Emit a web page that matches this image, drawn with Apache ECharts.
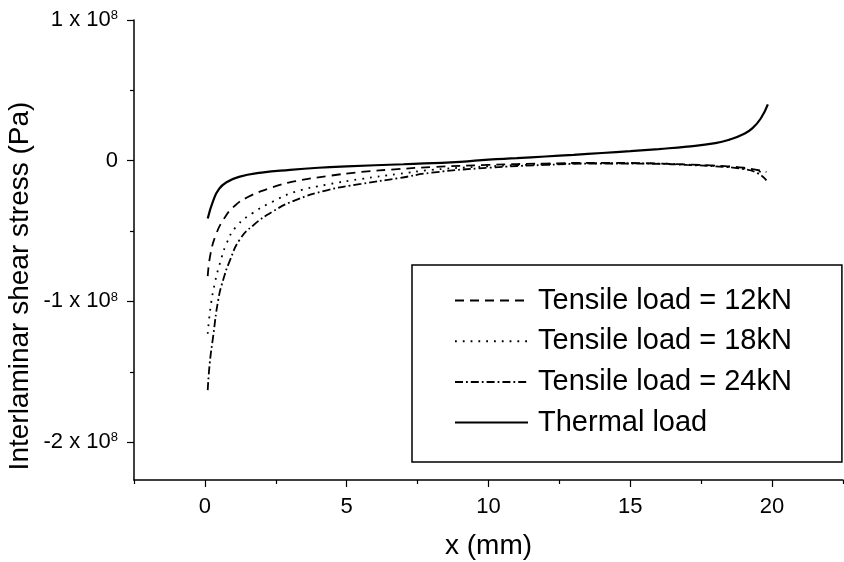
<!DOCTYPE html>
<html>
<head>
<meta charset="utf-8">
<script src="https://cdn.jsdelivr.net/npm/echarts@6/dist/echarts.min.js"></script>
<style>
  html, body { margin: 0; padding: 0; background: #fff; }
  #chart { width: 844px; height: 562px; }
</style>
</head>
<body>
<div id="chart"></div>
<script>
// stress values are in units of 1e8 Pa
const xThermal = [0.1, 0.3, 0.5, 0.75, 1.2, 2, 3, 4, 5, 7, 9, 10, 11, 12, 13, 14, 15, 16, 17, 18, 18.5, 19, 19.3, 19.6, 19.85];
const thermal = [-0.41, -0.28, -0.20, -0.155, -0.115, -0.085, -0.065, -0.05, -0.04, -0.025, -0.008, 0.008, 0.018, 0.03, 0.042, 0.055, 0.068, 0.083, 0.1, 0.125, 0.15, 0.19, 0.23, 0.30, 0.40];

const x12 = [0.1, 0.2, 0.4, 0.65, 1.0, 1.5, 2.3, 3.2, 4.3, 5.5, 6.8, 8, 10, 12, 14, 16, 17, 18, 19, 19.8];
const load12 = [-0.82, -0.66, -0.52, -0.42, -0.33, -0.26, -0.195, -0.145, -0.11, -0.08, -0.06, -0.045, -0.03, -0.02, -0.015, -0.02, -0.027, -0.035, -0.05, -0.08];

const x18 = [0.1, 0.2, 0.35, 0.53, 0.76, 1.1, 1.7, 2.4, 3.2, 4.3, 5.5, 6.8, 8, 10, 12, 14, 16, 17, 18, 19, 19.8];
const load18 = [-1.23, -1.04, -0.87, -0.73, -0.59, -0.47, -0.37, -0.29, -0.22, -0.17, -0.13, -0.095, -0.065, -0.04, -0.025, -0.018, -0.02, -0.028, -0.037, -0.055, -0.09];

const x24 = [0.1, 0.17, 0.29, 0.47, 0.64, 0.88, 1.23, 1.7, 2.4, 3.2, 4.3, 5.5, 6.8, 8, 10, 12, 14, 16, 17, 18, 19, 19.5, 19.8];
const load24 = [-1.63, -1.44, -1.25, -0.99, -0.85, -0.71, -0.56, -0.46, -0.36, -0.28, -0.21, -0.165, -0.125, -0.085, -0.05, -0.03, -0.02, -0.022, -0.03, -0.04, -0.06, -0.09, -0.14];

const seriesNames = ["Tensile load = 12kN", "Tensile load = 18kN", "Tensile load = 24kN", "Thermal load"];
const xMajor = [0, 5, 10, 15, 20];
const xMinor = [-2.5, 2.5, 7.5, 12.5, 17.5, 22.5];
const yMajor = [-2, -1, 0, 1];
const yMinor = [-1.5, -0.5, 0.5];

const font = "'Liberation Sans', Arial, sans-serif";
const pairs = (xs, ys) => xs.map((x, i) => [x, ys[i]]);
const X_MIN = -2.5, X_MAX = 22.5, Y_MIN = -2.269, Y_MAX = 1;

const chart = echarts.init(document.getElementById("chart"), null, { renderer: "canvas" });

const lineSeries = (name, data, type, width) => ({
  name,
  type: "line",
  data,
  smooth: 0.5,
  symbol: "none",
  showSymbol: false,
  clip: false,
  lineStyle: { color: "#000", width, type },
});

const tickStyle = { color: "#000", width: 1.2 };

chart.setOption({
  animation: false,
  backgroundColor: "#fff",
  textStyle: { fontFamily: font, color: "#000" },
  grid: { left: 134, right: 1, top: 20, bottom: 82, containLabel: false, outerBoundsMode: "none" },
  legend: {
    data: seriesNames,
    orient: "vertical",
    left: 412,
    top: 265,
    padding: [21, 50, 25, 42],
    itemGap: 11.7,
    itemWidth: 73,
    itemHeight: 20,
    borderColor: "#000",
    borderWidth: 1.5,
    backgroundColor: "#fff",
    itemStyle: { opacity: 0 },
    textStyle: { fontSize: 29, color: "#000", fontFamily: font, lineHeight: 29, padding: [0, 0, 0, 5] },
  },
  xAxis: [
    {
      type: "value",
      position: "bottom",
      min: X_MIN,
      max: X_MAX,
      name: "x (mm)",
      nameLocation: "middle",
      nameGap: 52,
      nameMoveOverlap: false,
      nameTextStyle: { fontSize: 28, color: "#000", fontFamily: font },
      axisLine: { onZero: false, lineStyle: { color: "#000", width: 1.5 } },
      axisTick: { length: 7, customValues: xMajor, lineStyle: tickStyle },
      axisLabel: { customValues: xMajor, fontSize: 22, color: "#000", margin: 16 },
      splitLine: { show: false },
    },
    {
      type: "value",
      position: "bottom",
      min: X_MIN,
      max: X_MAX,
      axisLine: { show: false, onZero: false },
      axisTick: { length: 4, customValues: xMinor, lineStyle: tickStyle },
      axisLabel: { show: false },
      splitLine: { show: false },
    },
  ],
  yAxis: [
    {
      type: "value",
      position: "left",
      min: Y_MIN,
      max: Y_MAX,
      name: "Interlaminar shear stress (Pa)",
      nameLocation: "middle",
      nameGap: 100,
      nameRotate: 90,
      nameMoveOverlap: false,
      nameTextStyle: { fontSize: 28, color: "#000", fontFamily: font, padding: [0, 72, 0, 0] },
      axisLine: { show: true, onZero: false, lineStyle: { color: "#000", width: 1.5 } },
      axisTick: { show: true, length: 7, customValues: yMajor, lineStyle: tickStyle },
      axisLabel: {
        customValues: yMajor,
        margin: 16,
        color: "#000",
        formatter: (v) => (v === 0 ? "{a|0}" : "{a|" + v + " x 10}{s|8}"),
        rich: {
          a: { fontSize: 22, color: "#000", fontFamily: font },
          s: { fontSize: 13, color: "#000", fontFamily: font, verticalAlign: "top" },
        },
      },
      splitLine: { show: false },
    },
    {
      type: "value",
      position: "left",
      min: Y_MIN,
      max: Y_MAX,
      axisLine: { show: false, onZero: false },
      axisTick: { show: true, length: 4, customValues: yMinor, lineStyle: tickStyle },
      axisLabel: { show: false },
      splitLine: { show: false },
    },
  ],
  series: [
    lineSeries(seriesNames[0], pairs(x12, load12), [9, 6], 1.8),
    lineSeries(seriesNames[1], pairs(x18, load18), [1.8, 6], 1.8),
    lineSeries(seriesNames[2], pairs(x24, load24), [8, 3, 1.8, 3], 1.8),
    lineSeries(seriesNames[3], pairs(xThermal, thermal), "solid", 2.2),
  ],
});
</script>
</body>
</html>
